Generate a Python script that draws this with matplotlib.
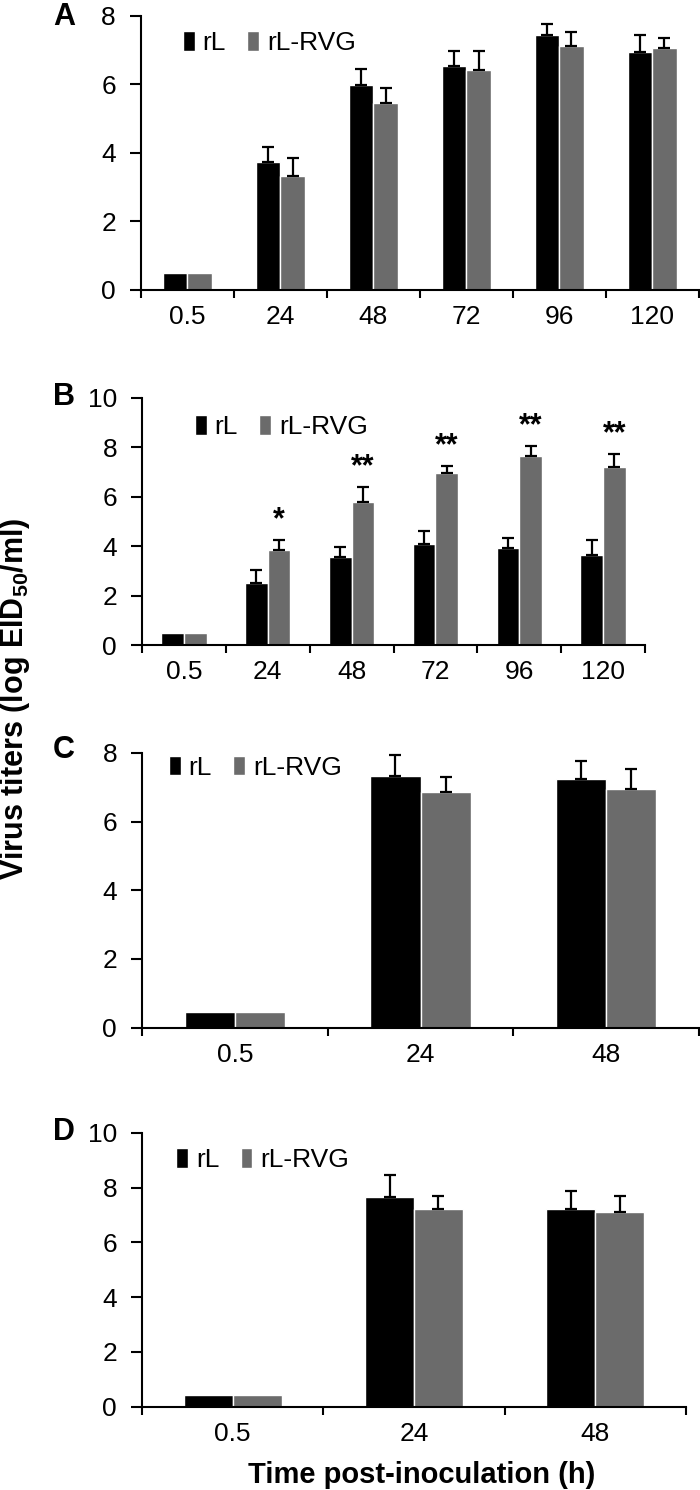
import numpy as np
import matplotlib
matplotlib.use('Agg')
import matplotlib.pyplot as plt

plt.rcParams['font.family'] = ['Liberation Sans', 'DejaVu Sans']
plt.rcParams['mathtext.fontset'] = 'custom'
plt.rcParams['mathtext.rm'] = 'Liberation Sans'
plt.rcParams['mathtext.bf'] = 'Liberation Sans:bold'

# data (log EID50/ml), mean and SD
times_long = ['0.5', '24', '48', '72', '96', '120']
times_short = ['0.5', '24', '48']

a_rl = [0.5, 3.73, 5.97, 6.55, 7.45, 6.94]
a_rl_sd = [0, 0.45, 0.48, 0.43, 0.31, 0.51]
a_rvg = [0.5, 3.34, 5.45, 6.42, 7.11, 7.06]
a_rvg_sd = [0, 0.50, 0.44, 0.56, 0.43, 0.31]

b_rl = [0.47, 2.49, 3.57, 4.08, 3.91, 3.64]
b_rl_sd = [0, 0.54, 0.41, 0.53, 0.40, 0.61]
b_rvg = [0.47, 3.84, 5.80, 6.94, 7.64, 7.21]
b_rvg_sd = [0, 0.41, 0.60, 0.31, 0.41, 0.50]
b_stars = ['', '*', '**', '**', '**', '**']

c_rl = [0.47, 7.32, 7.25]
c_rl_sd = [0, 0.63, 0.51]
c_rvg = [0.47, 6.85, 6.95]
c_rvg_sd = [0, 0.44, 0.59]

d_rl = [0.43, 7.65, 7.23]
d_rl_sd = [0, 0.83, 0.64]
d_rvg = [0.43, 7.23, 7.13]
d_rvg_sd = [0, 0.47, 0.57]

BLACK = '#000000'
GRAY = '#6b6b6b'
FS = 19


def panel(ax, cats, rl, rl_sd, rvg, rvg_sd, ymax, width, leg_xy, stars=None):
    x = np.arange(len(cats))
    ax.bar(x - width / 2, rl, width, color=BLACK, edgecolor='white',
           linewidth=1, label='rL', zorder=2)
    ax.bar(x + width / 2, rvg, width, color=GRAY, edgecolor='white',
           linewidth=1, label='rL-RVG', zorder=2)
    for off, vals, sd in [(-width / 2, rl, rl_sd), (width / 2, rvg, rvg_sd)]:
        sd = np.array(sd)
        vals = np.array(vals)
        m = sd > 0
        ax.errorbar(x[m] + off, vals[m], yerr=[np.zeros(m.sum()), sd[m]],
                    fmt='none', ecolor='black', elinewidth=1.6, capsize=4,
                    capthick=1.6, zorder=3)
    if stars:
        for i, s in enumerate(stars):
            if s:
                ax.text(x[i] + width / 2, rvg[i] + rvg_sd[i] + 0.2, s,
                        ha='center', va='bottom', fontsize=22,
                        fontweight='bold')

    ax.set_xlim(-0.5, len(cats) - 0.5)
    ax.set_ylim(0, ymax)
    ax.set_yticks(np.arange(0, ymax + 1, 2))
    ax.set_xticks(x)
    ax.set_xticklabels(cats)
    ax.set_xticks(np.arange(-0.5, len(cats)), minor=True)
    ax.tick_params(axis='x', which='major', length=0, pad=11, labelsize=FS)
    ax.tick_params(axis='x', which='minor', length=6, width=1.5,
                   direction='out')
    ax.tick_params(axis='y', length=8, width=1.5, direction='out', pad=10,
                   labelsize=FS)
    for sp in ['top', 'right']:
        ax.spines[sp].set_visible(False)
    for sp in ['left', 'bottom']:
        ax.spines[sp].set_linewidth(1.5)
    ax.legend(loc='center left', bbox_to_anchor=leg_xy, ncol=2,
              frameon=False, fontsize=FS, handlelength=0.45,
              handleheight=0.75, handletextpad=0.3, columnspacing=0.8,
              borderpad=0, borderaxespad=0)


fig = plt.figure(figsize=(7, 14.9), dpi=100)

ax_a = fig.add_axes([0.2014, 0.8054, 0.797, 0.1839])
ax_b = fig.add_axes([0.2029, 0.5671, 0.7186, 0.1660])
ax_c = fig.add_axes([0.2029, 0.3103, 0.7957, 0.1844])
ax_d = fig.add_axes([0.2029, 0.0559, 0.7771, 0.1837])

panel(ax_a, times_long, a_rl, a_rl_sd, a_rvg, a_rvg_sd, 8, 0.26, (0.075, 0.90))
panel(ax_b, times_long, b_rl, b_rl_sd, b_rvg, b_rvg_sd, 10, 0.27, (0.105, 0.88),
      stars=b_stars)
panel(ax_c, times_short, c_rl, c_rl_sd, c_rvg, c_rvg_sd, 8, 0.27, (0.048, 0.945))
panel(ax_d, times_short, d_rl, d_rl_sd, d_rvg, d_rvg_sd, 10, 0.27, (0.063, 0.90))

for lab, yy in [('A', 17), ('B', 397), ('C', 750), ('D', 1132)]:
    fig.text(64 / 700, 1 - yy / 1490, lab, ha='center', va='center',
             fontsize=22, fontweight='bold')

fig.text(0.021, 0.531, r'Virus titers (log EID$_{\mathbf{50}}$/ml)',
         rotation=90, ha='center', va='center', fontsize=22,
         fontweight='bold')
fig.text(422 / 700, 1 - 1475 / 1490, 'Time post-inoculation (h)',
         ha='center', va='center', fontsize=21, fontweight='bold')

fig.savefig('out.png', dpi=100)
